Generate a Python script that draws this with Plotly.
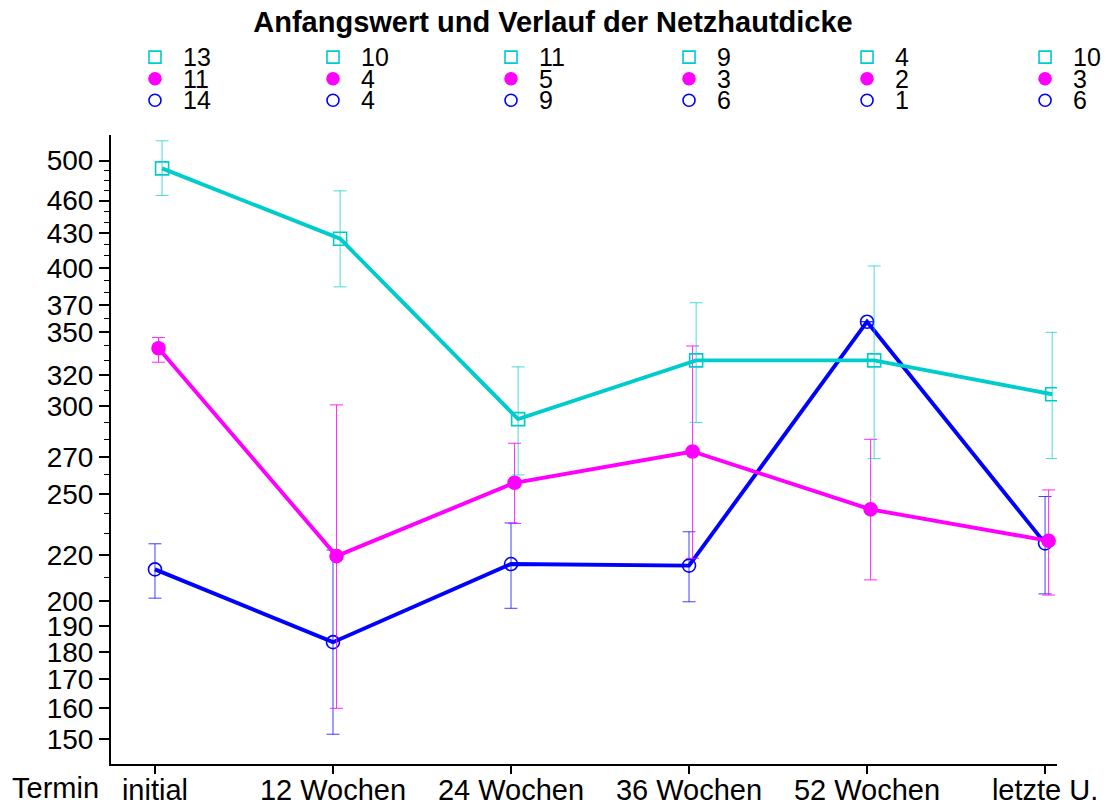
import plotly.graph_objects as go

# ---------------- data ----------------
categories = ["initial", "12 Wochen", "24 Wochen", "36 Wochen", "52 Wochen", "letzte U."]

cyan_mean = [492, 425, 292, 330, 330, 307.5]
cyan_hi = [521, 469.5, 325.5, 372, 401.6, 349.8]
cyan_lo = [465, 384.5, 260, 290, 269, 269]

magenta_mean = [338.4, 219.6, 255.8, 273, 242, 226.7]
magenta_hi = [346, 300.8, 277.7, 340, 280, 252]
magenta_lo = [328.7, 160, 235, 218.6, 209, 202.5]

blue_mean = [213.6, 183.6, 216, 215.3, 357.6, 225.5]
blue_hi = [225.3, 222.4, 235.3, 231, None, 248.6]
blue_lo = [201.2, 151.6, 197, 199.7, None, 203]

n_cyan = [13, 10, 11, 9, 4, 10]
n_magenta = [11, 4, 5, 3, 2, 3]
n_blue = [14, 4, 9, 6, 1, 6]

major_ticks = [150, 160, 170, 180, 190, 200, 220, 250, 270, 300, 320, 350, 370, 400, 430, 460, 500]
minor_ticks = list(range(150, 501, 10))

title_text = "Anfangswert und Verlauf der Netzhautdicke"
x_title = "Termin"

FONT = "Liberation Sans, Arial, sans-serif"
CYAN = "#00CCCC"
MAGENTA = "#FF00FF"
BLUE = "#0000FF"

fig = go.Figure()


def add_series(mean, hi, lo, offset, color, ebcolor, symbol, name):
    xs = [i + offset for i in range(len(mean))]
    plus = [(h - m) if h is not None else 0 for h, m in zip(hi, mean)]
    minus = [(m - l) if l is not None else 0 for l, m in zip(lo, mean)]
    # error bars
    fig.add_trace(go.Scatter(
        x=xs, y=mean, mode="markers",
        marker=dict(size=1, color="rgba(0,0,0,0)"),
        error_y=dict(type="data", symmetric=False, array=plus, arrayminus=minus,
                     color=ebcolor, thickness=1, width=6.5),
        showlegend=False, hoverinfo="skip", name=name + " err"))
    fig.add_trace(go.Scatter(
        x=xs, y=mean, mode="lines+markers",
        line=dict(color=color, width=3.9),
        marker=dict(symbol=symbol, size=13, color=color,
                    line=dict(color=color, width=1.6)),
        showlegend=False, name=name))


add_series(blue_mean, blue_hi, blue_lo, 0.0, BLUE, "rgba(0,0,255,0.75)", "circle-open", "blue")
add_series(magenta_mean, magenta_hi, magenta_lo, 0.02, MAGENTA, "rgba(255,0,255,0.85)", "circle", "magenta")
add_series(cyan_mean, cyan_hi, cyan_lo, 0.04, CYAN, "rgba(0,204,204,0.7)", "square-open", "cyan")

# ---------------- n-table legend on top ----------------
rows = [(n_cyan, CYAN, "square-open", 0), (n_magenta, MAGENTA, "circle", 1), (n_blue, BLUE, "circle-open", 2)]
for ns, color, symbol, r in rows:
    fig.add_trace(go.Scatter(
        x=list(range(len(ns))), y=[r] * len(ns), yaxis="y2", mode="markers",
        marker=dict(symbol=symbol, size=12, color=color, line=dict(color=color, width=1.6)),
        showlegend=False, hoverinfo="skip", cliponaxis=False))
    for i, n in enumerate(ns):
        fig.add_annotation(x=i, y=r, xref="x", yref="y2", text=str(n), showarrow=False,
                           xanchor="left", yanchor="middle", xshift=26,
                           font=dict(family=FONT, size=25, color="black"))

fig.add_annotation(x=0, y=0, xref="paper", yref="paper", text=x_title, showarrow=False,
                   xanchor="right", yanchor="top", xshift=-10, yshift=-6,
                   font=dict(family=FONT, size=29, color="black"))

W, H = 1106, 805
mt, mb, ml, mr = 45, 41, 111, 49
plot_h = H - mt - mb
main_top = 135 - mt
dom_top = 1 - main_top / plot_h

fig.update_layout(
    width=W, height=H,
    margin=dict(l=ml, r=mr, t=mt, b=mb, pad=0, autoexpand=False),
    paper_bgcolor="white", plot_bgcolor="white",
    font=dict(family=FONT, size=28, color="black"),
    title=dict(text="<b>" + title_text + "</b>", x=0.5, xref="container", xanchor="center",
               y=1 - 22 / H, yref="container", yanchor="middle",
               font=dict(family=FONT, size=29, color="black"), automargin=False),
    showlegend=False,
    xaxis=dict(
        range=[-0.247, 5.067], tickmode="array", tickvals=list(range(len(categories))),
        ticktext=categories, ticks="outside", ticklen=8, tickwidth=1.5, tickcolor="black",
        ticklabelstandoff=-9,
        showline=True, linecolor="black", linewidth=2, showgrid=False, zeroline=False,
        tickfont=dict(family=FONT, size=29, color="black"), anchor="y", automargin=False),
    yaxis=dict(
        type="log", range=[2.1538, 2.7221], domain=[0, dom_top],
        tickmode="array", tickvals=major_ticks, ticktext=[str(v) for v in major_ticks],
        ticks="outside", ticklen=10, tickwidth=1.5, tickcolor="black",
        minor=dict(tickmode="array", tickvals=minor_ticks, ticks="outside", ticklen=5,
                   tickwidth=1, tickcolor="black", showgrid=False),
        showline=True, linecolor="black", linewidth=2, showgrid=False, zeroline=False,
        tickfont=dict(family=FONT, size=28, color="black"), anchor="x", automargin=False),
    yaxis2=dict(
        domain=[dom_top + 0.005, 1], range=[3.44, -0.56], visible=False, anchor="x",
        showgrid=False, zeroline=False, automargin=False),
)

fig.write_html("out.html", config={"displayModeBar": False},
               post_script="document.body.style.margin='0';document.body.style.overflow='hidden';")
